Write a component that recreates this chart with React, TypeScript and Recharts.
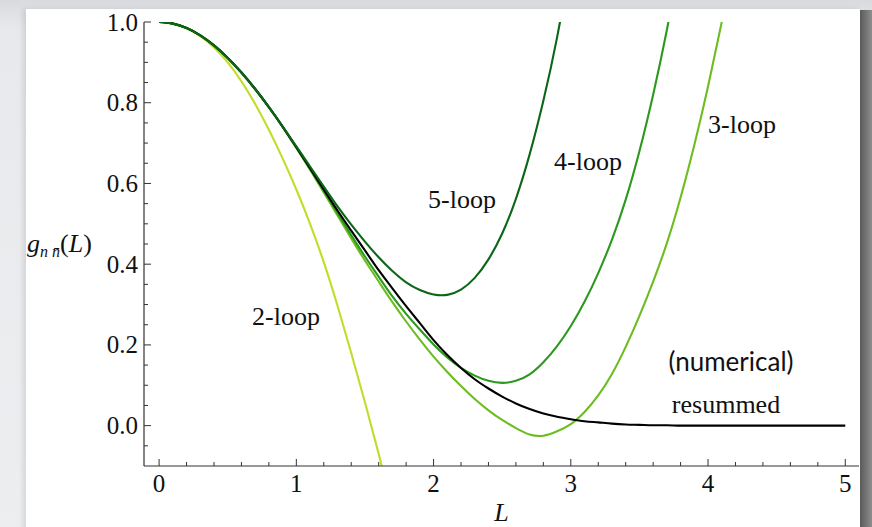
import { LineChart, Line, XAxis, YAxis } from 'recharts';

// g(L) sampled on a 0.1 grid; truncated orders stop once they leave the frame
const lValues = [
  0, 0.1, 0.2, 0.3, 0.4, 0.5, 0.6, 0.7, 0.8, 0.9,
  1.0, 1.1, 1.2, 1.3, 1.4, 1.5, 1.6, 1.7, 1.8, 1.9,
  2.0, 2.1, 2.2, 2.3, 2.4, 2.5, 2.6, 2.7, 2.8, 2.9,
  3.0, 3.1, 3.2, 3.3, 3.4, 3.5, 3.6, 3.7, 3.8, 3.9,
  4.0, 4.1, 4.2, 4.3, 4.4, 4.5, 4.6, 4.7, 4.8, 4.9, 5.0,
];

const resummed = [
  1.0, 0.996, 0.985, 0.967, 0.942, 0.911, 0.875, 0.834, 0.789, 0.741,
  0.69, 0.638, 0.585, 0.533, 0.483, 0.434, 0.385, 0.34, 0.296, 0.254,
  0.212, 0.175, 0.143, 0.115, 0.092, 0.072, 0.055, 0.041, 0.03, 0.022,
  0.016, 0.011, 0.008, 0.005, 0.003, 0.002, 0.001, 0.001, 0, 0,
  0, 0, 0, 0, 0, 0, 0, 0, 0, 0, 0,
];

const twoLoop = [
  1.0, 0.996, 0.985, 0.965, 0.937, 0.9, 0.853, 0.797, 0.733, 0.662,
  0.585, 0.5, 0.405, 0.297, 0.18, 0.058, -0.07, -0.205,
];

const threeLoop = [
  1.0, 0.996, 0.985, 0.967, 0.942, 0.911, 0.875, 0.834, 0.789, 0.74,
  0.688, 0.634, 0.578, 0.521, 0.464, 0.409, 0.357, 0.306, 0.258, 0.213,
  0.171, 0.133, 0.098, 0.066, 0.038, 0.014, -0.006, -0.022, -0.025, -0.014,
  0.004, 0.034, 0.075, 0.128, 0.195, 0.272, 0.357, 0.452, 0.565, 0.695,
  0.84, 1.0, 1.17,
];

const fourLoop = [
  1.0, 0.996, 0.985, 0.967, 0.942, 0.911, 0.875, 0.834, 0.789, 0.741,
  0.689, 0.636, 0.582, 0.527, 0.472, 0.419, 0.369, 0.32, 0.277, 0.238,
  0.201, 0.169, 0.143, 0.124, 0.111, 0.106, 0.111, 0.127, 0.157, 0.197,
  0.247, 0.307, 0.378, 0.461, 0.56, 0.68, 0.82, 0.98, 1.16,
];

const fiveLoop = [
  1.0, 0.996, 0.985, 0.967, 0.942, 0.911, 0.875, 0.834, 0.789, 0.741,
  0.692, 0.642, 0.592, 0.543, 0.498, 0.456, 0.417, 0.383, 0.355, 0.336,
  0.325, 0.324, 0.337, 0.366, 0.412, 0.476, 0.562, 0.672, 0.805, 0.962,
  1.15,
];

const xTicks = [
  0, 0.2, 0.4, 0.6, 0.8, 1, 1.2, 1.4, 1.6, 1.8, 2, 2.2, 2.4,
  2.6, 2.8, 3, 3.2, 3.4, 3.6, 3.8, 4, 4.2, 4.4, 4.6, 4.8, 5,
];
const xLabels = [0, 1, 2, 3, 4, 5];

const yTicks = [
  -0.05, 0, 0.05, 0.1, 0.15, 0.2, 0.25, 0.3, 0.35, 0.4, 0.45,
  0.5, 0.55, 0.6, 0.65, 0.7, 0.75, 0.8, 0.85, 0.9, 0.95, 1,
];
const yLabels = [0, 0.2, 0.4, 0.6, 0.8, 1];

const data = lValues.map((L, i) => ({
  L,
  resummed: resummed[i],
  twoLoop: twoLoop[i] ?? null,
  threeLoop: threeLoop[i] ?? null,
  fourLoop: fourLoop[i] ?? null,
  fiveLoop: fiveLoop[i] ?? null,
}));

const SERIF = '"Liberation Serif", "Times New Roman", serif';
const FRAME = '#333';
const MAJOR = 7;
const MINOR = 4;

function BottomTick({ x, y, payload }: any) {
  const major = xLabels.includes(payload.value);
  return (
    <g>
      <line x1={x} x2={x} y1={y} y2={y - (major ? MAJOR : MINOR)} stroke={FRAME} />
      {major && (
        <text x={x} y={y + 26} textAnchor="middle" fontFamily={SERIF} fontSize={25} fill="#111">
          {payload.value}
        </text>
      )}
    </g>
  );
}

function TopTick({ x, y, payload }: any) {
  const major = xLabels.includes(payload.value);
  return <line x1={x} x2={x} y1={y} y2={y + (major ? MAJOR : MINOR)} stroke={FRAME} />;
}

function LeftTick({ x, y, payload }: any) {
  const major = yLabels.includes(payload.value);
  return (
    <g>
      <line x1={x} x2={x + (major ? MAJOR : MINOR)} y1={y} y2={y} stroke={FRAME} />
      {major && (
        <text x={x - 6} y={y + 8.5} textAnchor="end" fontFamily={SERIF} fontSize={25} fill="#111">
          {payload.value.toFixed(1)}
        </text>
      )}
    </g>
  );
}

function RightTick({ x, y, payload }: any) {
  const major = yLabels.includes(payload.value);
  return <line x1={x} x2={x - (major ? MAJOR : MINOR)} y1={y} y2={y} stroke={FRAME} />;
}

function XTitle({ viewBox }: any) {
  return (
    <text
      x={viewBox.x + viewBox.width / 2}
      y={521}
      textAnchor="middle"
      fontFamily={SERIF}
      fontStyle="italic"
      fontSize={26}
      fill="#111"
    >
      L
    </text>
  );
}

function YTitle({ viewBox }: any) {
  return (
    <text x={27} y={viewBox.y + viewBox.height / 2 + 8} fontFamily={SERIF} fontSize={26} fill="#111">
      <tspan fontStyle="italic">g</tspan>
      <tspan fontStyle="italic" fontSize={16} dy={5}>{'n n\u0304'}</tspan>
      <tspan dy={-5}>(</tspan>
      <tspan fontStyle="italic">L</tspan>
      <tspan>)</tspan>
    </text>
  );
}

const noteStyle = { fontFamily: SERIF, fontSize: 26, fill: '#111' };

export default function App() {
  return (
    <div
      style={{
        position: 'fixed',
        left: 0,
        top: 0,
        width: 872,
        height: 527,
        overflow: 'hidden',
        background: 'linear-gradient(to bottom, #d9dadd, #e8e9ec 30px, #eceef0)',
      }}
    >
      <div
        style={{
          position: 'absolute',
          left: 26,
          top: 9,
          width: 834,
          height: 530,
          background: '#fff',
          boxShadow: '-3px 0 5px rgba(0,0,0,0.10)',
        }}
      />
      <div
        style={{
          position: 'absolute',
          left: 860,
          top: 10,
          width: 12,
          height: 530,
          background: 'linear-gradient(to right, #5a5a5a, #8e8e8e)',
        }}
      />
      <div style={{ position: 'absolute', left: 0, top: 0 }}>
        <LineChart width={872} height={527} data={data} margin={{ top: 22, right: 13, bottom: 0, left: 0 }}>
          <XAxis
            xAxisId="top"
            orientation="top"
            dataKey="L"
            type="number"
            domain={[-0.11, 5.1]}
            allowDataOverflow
            ticks={xTicks}
            interval={0}
            height={0}
            tickSize={0}
            tickMargin={0}
            tickLine={false}
            tick={TopTick}
            axisLine={{ stroke: FRAME, strokeWidth: 1.2 }}
          />
          <XAxis
            xAxisId="bottom"
            dataKey="L"
            type="number"
            domain={[-0.11, 5.1]}
            allowDataOverflow
            ticks={xTicks}
            interval={0}
            height={61}
            tickSize={0}
            tickMargin={0}
            tickLine={false}
            tick={BottomTick}
            axisLine={{ stroke: FRAME, strokeWidth: 1.2 }}
            label={XTitle}
          />
          <YAxis
            yAxisId="left"
            type="number"
            domain={[-0.1, 1]}
            allowDataOverflow
            ticks={yTicks}
            interval={0}
            width={144}
            tickSize={0}
            tickMargin={0}
            tickLine={false}
            tick={LeftTick}
            axisLine={{ stroke: FRAME, strokeWidth: 1.2 }}
            label={YTitle}
          />
          <YAxis
            yAxisId="right"
            orientation="right"
            type="number"
            domain={[-0.1, 1]}
            allowDataOverflow
            ticks={yTicks}
            interval={0}
            width={0}
            tickSize={0}
            tickMargin={0}
            tickLine={false}
            tick={RightTick}
            axisLine={{ stroke: FRAME, strokeWidth: 1.2 }}
          />

          <Line xAxisId="bottom" yAxisId="left" type="natural" dataKey="twoLoop" stroke="#c3dc2a" strokeWidth={2.1} dot={false} isAnimationActive={false} />
          <Line xAxisId="bottom" yAxisId="left" type="natural" dataKey="threeLoop" stroke="#6cbd20" strokeWidth={2.1} dot={false} isAnimationActive={false} />
          <Line xAxisId="bottom" yAxisId="left" type="natural" dataKey="fourLoop" stroke="#2c981e" strokeWidth={2.1} dot={false} isAnimationActive={false} />
          <Line xAxisId="bottom" yAxisId="left" type="monotone" dataKey="resummed" stroke="#000" strokeWidth={2.1} dot={false} isAnimationActive={false} />
          <Line xAxisId="bottom" yAxisId="left" type="natural" dataKey="fiveLoop" stroke="#0b6618" strokeWidth={2.1} dot={false} isAnimationActive={false} />

          <text x={286} y={325} textAnchor="middle" {...noteStyle}>2-loop</text>
          <text x={742} y={133} textAnchor="middle" {...noteStyle}>3-loop</text>
          <text x={588} y={170} textAnchor="middle" {...noteStyle}>4-loop</text>
          <text x={462} y={208} textAnchor="middle" {...noteStyle}>5-loop</text>
          <text x={726} y={413} textAnchor="middle" {...noteStyle}>resummed</text>
          <text x={731} y={371} textAnchor="middle" fontFamily="Lato, 'Open Sans', sans-serif" fontSize={26} fill="#111">
            (numerical)
          </text>
        </LineChart>
      </div>
    </div>
  );
}
